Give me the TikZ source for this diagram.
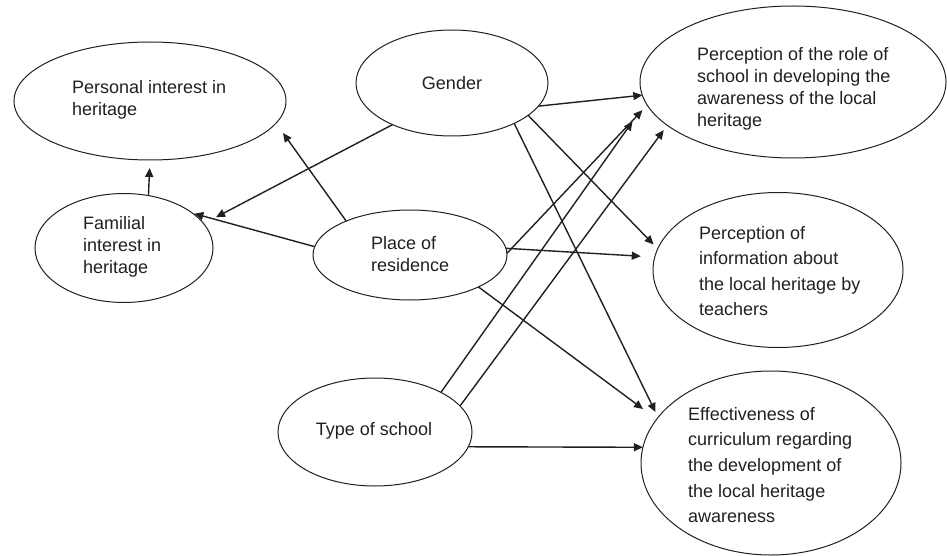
\documentclass[tikz,border=0pt]{standalone}
\usepackage{fontspec}
\setmainfont{Liberation Sans}
\usetikzlibrary{shapes.geometric,arrows.meta}
\definecolor{ink}{HTML}{231F20}
\begin{document}
\begin{tikzpicture}[x=1pt,y=-1pt,
  oval/.style={draw=ink,line width=1pt,ellipse,inner sep=0pt,outer sep=0pt},
  lbl/.style={inner sep=0pt,align=left,text=ink,font=\fontsize{18}{22}\selectfont},
  lblw/.style={inner sep=0pt,align=left,text=ink,font=\fontsize{18}{25.6}\selectfont},
  conn/.style={draw=ink,line width=1.4pt,-{Triangle[length=9pt,width=8pt]}}]
\useasboundingbox (0,0) rectangle (947,556);
% ellipses
\node[oval,minimum width=272pt,minimum height=118pt] (pers) at (150,101) {};
\node[oval,minimum width=178pt,minimum height=109pt] (fam) at (124,248) {};
\node[oval,minimum width=192pt,minimum height=106pt] (gen) at (452,83) {};
\node[oval,minimum width=194pt,minimum height=90pt] (res) at (410,255) {};
\node[oval,minimum width=306pt,minimum height=152pt] (role) at (793,82) {};
\node[oval,minimum width=250pt,minimum height=155pt] (info) at (778,270) {};
\node[oval,minimum width=194pt,minimum height=108pt] (type) at (375,432) {};
\node[oval,minimum width=260pt,minimum height=184pt] (eff) at (771,463) {};
% labels
\node[lbl,anchor=west] (tpers) at (72,100) {Personal interest in\\heritage};
\node[lbl,anchor=west] (tfam) at (83,247) {Familial\\interest in\\heritage};
\node[lbl] (tgen) at (452,83) {Gender};
\node[lbl,anchor=west] (tres) at (371,254) {Place of\\residence};
\node[lbl,anchor=west] (trole) at (697,89) {Perception of the role of\\school in developing the\\awareness of the local\\heritage};
\node[lblw,anchor=west] (tinfo) at (699,271) {Perception of\\information about\\the local heritage by\\teachers};
\node[lbl] (ttype) at (374,431) {Type of school};
\node[lblw,anchor=west] (teff) at (688,465) {Effectiveness of\\curriculum regarding\\the development of\\the local heritage\\awareness};
% connectors
\draw[conn,shorten >=8pt] (fam.65) -- (pers.-90);
\draw[conn,shorten >=14pt] (gen.215) -- (fam.17);
\draw[conn,shorten >=2pt] (res.175) -- (fam.27);
\draw[conn,shorten >=12pt] (res.152) -- (pers.-10);
\draw[conn] (gen.-15) -- (role.185);
\draw[conn,shorten >=6pt] (gen.-23) -- (info.170);
\draw[conn,shorten >=6pt] (gen.-33) -- (eff.158);
\draw[conn,shorten >=7pt] (res.1) -- (role.189);
\draw[conn,shorten >=14pt] (res.4) -- (info.174);
\draw[conn,shorten >=17pt] (res.-25) -- (eff.159);
\draw[conn,shorten >=23pt] (type.31) -- (role.188);
\draw[conn,shorten >=6pt] (type.17) -- (role.199);
\draw[conn] (type.-9) -- (eff.173);
\end{tikzpicture}
\end{document}
